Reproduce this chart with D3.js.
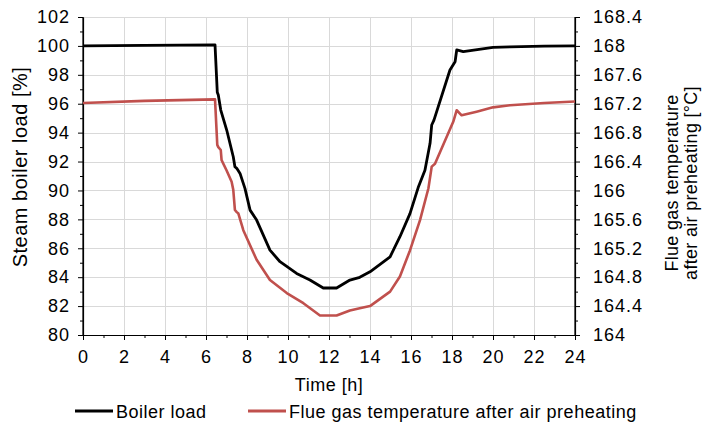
<!DOCTYPE html>
<html>
<head>
<meta charset="utf-8">
<script src="https://cdn.jsdelivr.net/npm/d3@7"></script>
<style>
  html, body { margin: 0; padding: 0; background: #fff; }
  svg { display: block; font-family: "Liberation Sans", Arial, sans-serif; }
</style>
</head>
<body>
<svg id="chart" width="703" height="433"></svg>
<script>
// Boiler load over a day [h, %]
const loadTime  = [0, 3, 6.44, 6.55, 6.6, 6.72, 7.01, 7.33, 7.41, 7.5, 7.66, 7.9, 8.15, 8.47, 9.12, 9.61, 10.42, 11.07, 11.72, 12.37, 13.02, 13.5, 14.0, 14.98, 15.46, 15.95, 16.35, 16.68, 16.93, 17.01, 17.12, 17.9, 18.15, 18.23, 18.55, 20.0, 20.83, 22.5, 24];
const loadValue = [100.0, 100.03, 100.07, 96.8, 96.6, 95.56, 94.18, 92.33, 91.64, 91.53, 91.18, 90.14, 88.64, 87.95, 85.87, 85.07, 84.26, 83.8, 83.25, 83.25, 83.8, 83.99, 84.37, 85.41, 86.8, 88.4, 90.2, 91.4, 93.26, 94.53, 94.87, 98.33, 98.9, 99.72, 99.6, 99.9, 99.94, 99.98, 100.0];

// Flue gas temperature after air preheating [h, °C]
const flueTime  = [0, 3, 6.44, 6.55, 6.6, 6.72, 6.76, 7.0, 7.25, 7.33, 7.41, 7.5, 7.58, 7.82, 8.47, 9.12, 9.94, 10.75, 11.56, 12.37, 13.02, 13.5, 14.0, 14.98, 15.46, 15.95, 16.44, 16.85, 17.01, 17.17, 18.06, 18.23, 18.47, 19.2, 20.0, 20.83, 22.5, 24];
const flueValue = [167.21, 167.24, 167.26, 166.63, 166.6, 166.56, 166.42, 166.28, 166.12, 166.01, 165.73, 165.7, 165.68, 165.45, 165.04, 164.76, 164.58, 164.44, 164.27, 164.27, 164.34, 164.37, 164.4, 164.6, 164.81, 165.17, 165.59, 166.03, 166.33, 166.37, 166.95, 167.11, 167.04, 167.09, 167.15, 167.18, 167.21, 167.23];

// Axis ticks
const timeTicks  = [0, 2, 4, 6, 8, 10, 12, 14, 16, 18, 20, 22, 24];
const loadTicks  = [80, 82, 84, 86, 88, 90, 92, 94, 96, 98, 100, 102];
const flueTicks  = [164, 164.4, 164.8, 165.2, 165.6, 166, 166.4, 166.8, 167.2, 167.6, 168, 168.4];

const seriesNames = ["Boiler load", "Flue gas temperature after air preheating"];
const colors = { load: "#000000", flue: "#c0504d" };

const margin = { left: 83, right: 128, top: 17, bottom: 98 };
const W = 703, H = 433;
const iw = W - margin.left - margin.right;
const ih = H - margin.top - margin.bottom;

const svg = d3.select("#chart");
const g = svg.append("g").attr("transform", `translate(${margin.left},${margin.top})`);

const x  = d3.scaleLinear().domain([0, 24]).range([0, iw]);
const yL = d3.scaleLinear().domain([80, 102]).range([ih, 0]);
const yR = d3.scaleLinear().domain([164, 168.4]).range([ih, 0]);

// Grid
const grid = g.append("g").attr("stroke", "#d9d9d9").attr("stroke-width", 1);
grid.selectAll("line.h").data(loadTicks).join("line")
  .attr("x1", 0).attr("x2", iw)
  .attr("y1", d => Math.round(yL(d)) + 0.5).attr("y2", d => Math.round(yL(d)) + 0.5);
grid.selectAll("line.v").data(timeTicks.slice(1, -1)).join("line")
  .attr("y1", 0).attr("y2", ih)
  .attr("x1", d => Math.round(x(d)) + 0.5).attr("x2", d => Math.round(x(d)) + 0.5);

const tickFont = 18;
function styleAxis(sel) {
  sel.select(".domain").attr("stroke", "#000").attr("stroke-width", 1.2);
  sel.selectAll(".tick line").attr("stroke", "#000").attr("stroke-width", 1);
  sel.selectAll(".tick text").attr("fill", "#000").style("font-size", tickFont + "px")
    .style("letter-spacing", "1px")
    .style("font-family", "'Liberation Sans', Arial, sans-serif");
}

// Minor ticks
const odd = (a, b, s) => d3.range(a, b + 1e-9, s);
g.append("g").attr("transform", `translate(0,${ih})`)
  .call(d3.axisBottom(x).tickValues(odd(1, 23, 2)).tickFormat("").tickSize(3).tickSizeOuter(0))
  .call(styleAxis);
g.append("g")
  .call(d3.axisLeft(yL).tickValues(odd(81, 101, 2)).tickFormat("").tickSize(3).tickSizeOuter(0))
  .call(styleAxis);
g.append("g").attr("transform", `translate(${iw},0)`)
  .call(d3.axisRight(yR).tickValues(flueTicks.slice(0, -1).map(v => v + 0.2)).tickFormat("").tickSize(3).tickSizeOuter(0))
  .call(styleAxis);

// Major axes
g.append("g").attr("transform", `translate(0,${ih})`)
  .call(d3.axisBottom(x).tickValues(timeTicks).tickFormat(d => d).tickSize(5).tickSizeOuter(0).tickPadding(10))
  .call(styleAxis);
g.append("g")
  .call(d3.axisLeft(yL).tickValues(loadTicks).tickFormat(d => d).tickSize(5).tickSizeOuter(0).tickPadding(8))
  .call(styleAxis)
  .call(a => a.select(".domain").attr("d", `M0,${ih}V0`));
g.append("g").attr("transform", `translate(${iw},0)`)
  .call(d3.axisRight(yR).tickValues(flueTicks).tickFormat(d => String(+d.toFixed(1))).tickSize(5).tickSizeOuter(0).tickPadding(13))
  .call(styleAxis)
  .call(a => a.select(".domain").attr("d", `M0,${ih}V0`));

// Lines
const loadLine = d3.line().x((d, i) => x(loadTime[i])).y(d => yL(d));
const flueLine = d3.line().x((d, i) => x(flueTime[i])).y(d => yR(d));

g.append("path").attr("d", flueLine(flueValue))
  .attr("fill", "none").attr("stroke", colors.flue).attr("stroke-width", 2.6)
  .attr("stroke-linejoin", "round");
g.append("path").attr("d", loadLine(loadValue))
  .attr("fill", "none").attr("stroke", colors.load).attr("stroke-width", 2.8)
  .attr("stroke-linejoin", "round");

// Axis titles
svg.append("text").attr("x", margin.left + iw / 2).attr("y", 391)
  .attr("text-anchor", "middle").style("font-size", "18px").style("letter-spacing", "0.5px").text("Time [h]");
svg.append("text")
  .attr("transform", `translate(27,167) rotate(-90)`)
  .attr("text-anchor", "middle").style("font-size", "20px").style("letter-spacing", "0.5px").text("Steam boiler load [%]");
svg.append("text")
  .attr("transform", `translate(678,183) rotate(-90)`)
  .attr("text-anchor", "middle").style("font-size", "18px").style("letter-spacing", "0.3px").text("Flue gas temperature");
svg.append("text")
  .attr("transform", `translate(697,183) rotate(-90)`)
  .attr("text-anchor", "middle").style("font-size", "18px").style("letter-spacing", "0.3px").text("after air preheating [°C]");

// Legend
const legend = svg.append("g").attr("transform", "translate(0,411)");
const items = [
  { name: seriesNames[0], color: colors.load, x0: 75 },
  { name: seriesNames[1], color: colors.flue, x0: 248 }
];
items.forEach(it => {
  legend.append("line").attr("x1", it.x0).attr("x2", it.x0 + 38).attr("y1", 0).attr("y2", 0)
    .attr("stroke", it.color).attr("stroke-width", 3);
  legend.append("text").attr("x", it.x0 + 41).attr("y", 6.5)
    .style("font-size", "18px").style("letter-spacing", "0.5px").text(it.name);
});
</script>
</body>
</html>
